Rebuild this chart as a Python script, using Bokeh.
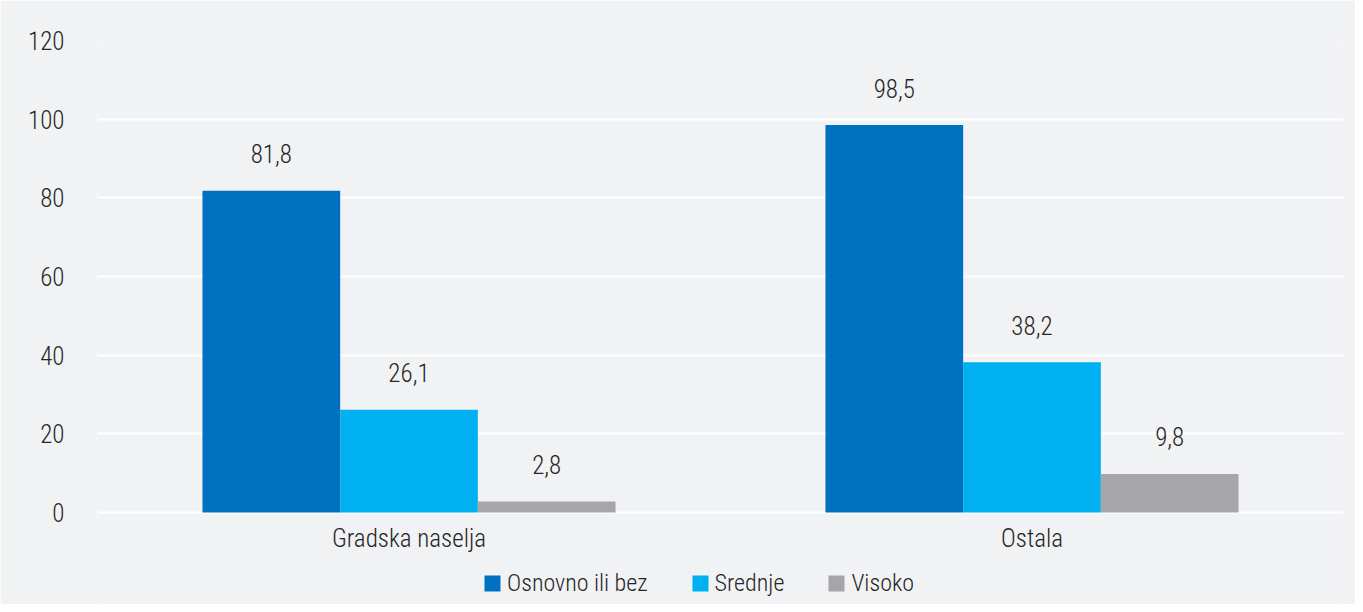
from bokeh.plotting import figure
from bokeh.models import FactorRange, ColumnDataSource, Legend, LegendItem, Range1d, FixedTicker
from bokeh.transform import dodge
from bokeh.embed import file_html
from bokeh.resources import INLINE
from bokeh.core.properties import value

categories = ["Gradska naselja", "Ostala"]
series_names = ["Osnovno ili bez", "Srednje", "Visoko"]
osnovno = [81.8, 98.5]
srednje = [26.1, 38.2]
visoko = [2.8, 9.8]
y_ticks = [0, 20, 40, 60, 80, 100, 120]
colors = ["#0070c0", "#00b0f0", "#a6a6a8"]

FONT = "'Roboto Condensed Light', 'Roboto Condensed'"
TXT = "#262626"
BG = "#f1f2f4"

# frame extends below zero so that category labels and legend live inside it
p = figure(x_range=FactorRange(*categories), y_range=Range1d(-23.39, 120),
           width=1355, height=604, output_backend="svg", toolbar_location=None,
           background_fill_color=BG, border_fill_color=BG,
           min_border_left=97, min_border_right=12, min_border_top=40, min_border_bottom=0)
p.outline_line_color = None

offsets = [-0.221, 0.0, 0.221]
series = [osnovno, srednje, visoko]
items = []
for name, vals, col, off in zip(series_names, series, colors, offsets):
    src = ColumnDataSource(dict(cat=categories, val=vals,
                                lab=[f"{v:.1f}".replace(".", ",") for v in vals]))
    r = p.vbar(x=dodge("cat", off, range=p.x_range), top="val", width=0.221,
               source=src, fill_color=col, line_color=None)
    p.text(x=dodge("cat", off, range=p.x_range), y="val", text="lab", source=src,
           y_offset=-37, text_align="center", text_baseline="middle",
           text_font=value(FONT), text_font_size="25px", text_color=TXT)
    items.append(LegendItem(label=name, renderers=[r]))

# category labels under the bars
cat_src = ColumnDataSource(dict(cat=categories, y=[0] * len(categories)))
p.text(x="cat", y="y", text="cat", source=cat_src, y_offset=26,
       text_align="center", text_baseline="middle",
       text_font=value(FONT), text_font_size="25px", text_color=TXT)

legend = Legend(items=items, orientation="horizontal", location=(381, 3),
                background_fill_alpha=0, border_line_alpha=0,
                label_text_font=FONT, label_text_font_size="24px", label_text_color=TXT,
                glyph_width=20, glyph_height=20, spacing=42, label_standoff=5,
                margin=0, padding=4)
p.add_layout(legend)

p.xaxis.visible = False
p.yaxis.ticker = FixedTicker(ticks=y_ticks)
p.yaxis.axis_line_color = None
p.yaxis.major_tick_line_color = None
p.yaxis.minor_tick_line_color = None
p.yaxis.major_label_text_font = FONT
p.yaxis.major_label_text_font_size = "25px"
p.yaxis.major_label_text_color = TXT
p.yaxis.major_label_standoff = 27

p.xgrid.grid_line_color = None
p.ygrid.ticker = FixedTicker(ticks=y_ticks)
p.ygrid.grid_line_color = "white"
p.ygrid.grid_line_width = 2

open("out.html", "w").write(file_html(p, INLINE))
